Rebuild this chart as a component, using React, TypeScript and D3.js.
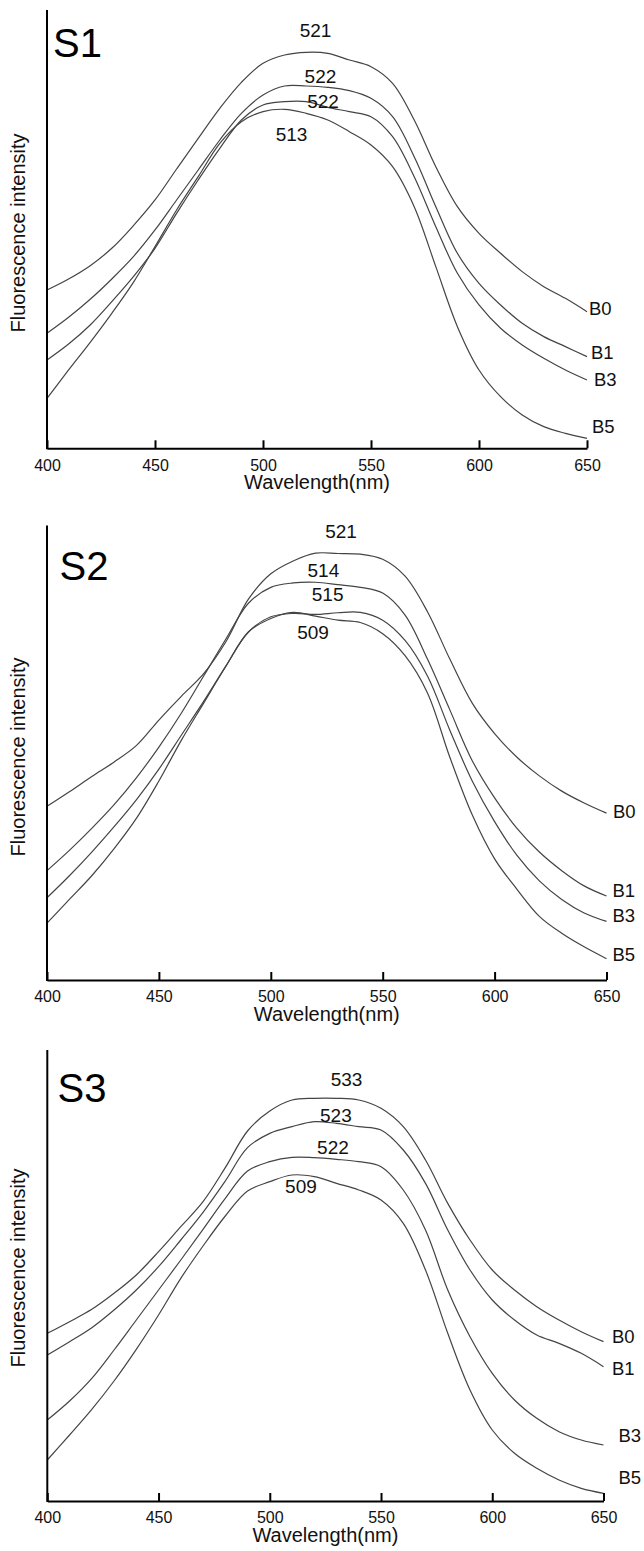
import React, { useEffect, useRef } from 'react';
import * as d3 from 'd3';

// wavelength grid (nm)
const wavelengths = [
  400, 410, 420, 430, 440, 450, 460, 470, 480, 490, 500, 510, 520,
  530, 540, 550, 560, 570, 580, 590, 600, 610, 620, 630, 640, 650,
];
const xTicks = [400, 450, 500, 550, 600, 650];
const seriesNames = ['B0', 'B1', 'B3', 'B5'];

// S1 intensities (a.u.)
const s1B0 = [475, 508, 548, 600, 668, 745, 838, 930, 1020, 1098, 1155, 1180, 1188, 1185, 1165, 1145, 1095, 985, 845, 725, 645, 585, 530, 485, 450, 410];
const s1B1 = [345, 393, 447, 508, 575, 655, 745, 835, 925, 1005, 1060, 1087, 1087, 1083, 1073, 1050, 995, 875, 725, 585, 495, 430, 375, 335, 305, 275];
const s1B3 = [265, 313, 370, 440, 515, 600, 705, 805, 900, 985, 1030, 1040, 1040, 1023, 1010, 995, 935, 815, 665, 525, 430, 360, 310, 270, 235, 205];
const s1B5 = [150, 235, 318, 405, 498, 605, 715, 815, 915, 980, 1010, 1017, 1005, 985, 950, 910, 845, 725, 545, 365, 235, 155, 100, 65, 45, 30];

// S2 intensities (a.u.)
const s2B0 = [513, 556, 601, 644, 693, 768, 838, 905, 1000, 1125, 1200, 1238, 1261, 1260, 1258, 1243, 1193, 1088, 948, 818, 728, 658, 603, 558, 523, 493];
const s2B1 = [323, 383, 448, 518, 598, 688, 788, 898, 1008, 1113, 1160, 1173, 1175, 1168, 1160, 1143, 1078, 948, 798, 648, 538, 448, 378, 323, 278, 248];
const s2B3 = [243, 308, 378, 453, 533, 623, 723, 823, 928, 1028, 1073, 1083, 1080, 1085, 1086, 1063, 1003, 898, 738, 588, 468, 368, 293, 238, 198, 173];
const s2B5 = [168, 238, 308, 388, 478, 588, 708, 818, 928, 1028, 1068, 1086, 1075, 1063, 1056, 1023, 958, 848, 658, 488, 358, 268, 188, 138, 98, 63];

// S3 intensities (a.u.)
const s3B0 = [503, 538, 575, 623, 678, 748, 823, 898, 1000, 1110, 1170, 1203, 1208, 1208, 1203, 1178, 1123, 1023, 893, 783, 693, 633, 583, 543, 508, 478];
const s3B1 = [438, 478, 520, 573, 633, 703, 783, 866, 960, 1060, 1103, 1123, 1138, 1133, 1123, 1113, 1053, 953, 813, 693, 603, 543, 498, 473, 443, 403];
const s3B3 = [243, 300, 368, 453, 543, 633, 723, 815, 908, 990, 1018, 1031, 1030, 1025, 1018, 1003, 933, 813, 633, 493, 383, 303, 248, 208, 183, 168];
const s3B5 = [123, 198, 275, 360, 455, 558, 668, 765, 855, 930, 958, 978, 973, 953, 933, 903, 833, 693, 503, 333, 213, 143, 98, 63, 38, 23];

// peak wavelength labels: text, anchor wavelength, anchor intensity
const s1Peaks = [
  { text: '521', wl: 524.3, v: 1235 },
  { text: '522', wl: 526.6, v: 1096 },
  { text: '522', wl: 527.8, v: 1021 },
  { text: '513', wl: 513.2, v: 923 },
];
const s2Peaks = [
  { text: '521', wl: 531.4, v: 1306 },
  { text: '514', wl: 523.5, v: 1190 },
  { text: '515', wl: 525.4, v: 1120 },
  { text: '509', wl: 518.9, v: 1007 },
];
const s3Peaks = [
  { text: '533', wl: 534.5, v: 1245 },
  { text: '523', wl: 529.7, v: 1137 },
  { text: '522', wl: 528.4, v: 1041 },
  { text: '509', wl: 514, v: 924 },
];

const panels = [
  { title: 'S1', series: [s1B0, s1B1, s1B3, s1B5], peaks: s1Peaks, yMax: 1315 },
  { title: 'S2', series: [s2B0, s2B1, s2B3, s2B5], peaks: s2Peaks, yMax: 1343 },
  { title: 'S3', series: [s3B0, s3B1, s3B3, s3B5], peaks: s3Peaks, yMax: 1353 },
];

// layout of each panel in page pixels
const layouts = [
  {
    left: 47, right: 587, top: 10, bottom: 448.3,
    titleX: 53, titleY: 57, yTitleY: 233,
    endOffsets: [[2, 3.5], [4, 2], [7, 6], [5, -5]],
  },
  {
    left: 47, right: 606.5, top: 525.4, bottom: 980,
    titleX: 59.5, titleY: 579.5, yTitleY: 757,
    endOffsets: [[6.5, 4.5], [6, 1], [6, 1], [6, 2.5]],
  },
  {
    left: 47.3, right: 603.5, top: 1050, bottom: 1501,
    titleX: 57.5, titleY: 1101.7, yTitleY: 1268,
    endOffsets: [[8.5, 1.5], [8.5, 8], [15, -3], [15, -9]],
  },
];

const FONT = '"Liberation Sans", Arial, Helvetica, sans-serif';
const LINE = '#444';

function Panel({ panel, layout }) {
  const axisRef = useRef(null);

  const x = d3.scaleLinear().domain([400, 650]).range([layout.left, layout.right]);
  const y = d3.scaleLinear().domain([0, panel.yMax]).range([layout.bottom, layout.top]);

  useEffect(() => {
    const g = d3.select(axisRef.current);
    g.selectAll('*').remove();
    g.call(
      d3.axisBottom(x).tickValues(xTicks).tickSizeInner(-8).tickSizeOuter(0).tickPadding(11)
    );
    g.select('.domain').attr('stroke', '#000').attr('stroke-width', 2);
    g.selectAll('.tick line').attr('stroke', '#000').attr('stroke-width', 2);
    g.selectAll('.tick text')
      .attr('fill', '#111')
      .style('font-family', FONT)
      .style('font-size', '16px');
  }, [panel, layout]);

  const line = d3
    .line()
    .x((d, i) => x(wavelengths[i]))
    .y((d) => y(d))
    .curve(d3.curveCatmullRom.alpha(0.5));

  const midX = (layout.left + layout.right) / 2;

  return (
    <g>
      {/* Lines */}
      {panel.series.map((s, i) => (
        <path key={seriesNames[i]} d={line(s)} fill="none" stroke={LINE} strokeWidth={1.2} />
      ))}

      {/* End labels */}
      {panel.series.map((s, i) => (
        <text
          key={'lab' + i}
          x={x(650) + layout.endOffsets[i][0]}
          y={y(s[s.length - 1]) + layout.endOffsets[i][1]}
          fontSize={18.5}
          fontFamily={FONT}
          fill="#111"
        >
          {seriesNames[i]}
        </text>
      ))}

      {/* Peak labels */}
      {panel.peaks.map((p, i) => (
        <text
          key={'pk' + i}
          x={x(p.wl)}
          y={y(p.v)}
          textAnchor="middle"
          fontSize={19}
          fontFamily={FONT}
          fill="#111"
        >
          {p.text}
        </text>
      ))}

      {/* Y axis */}
      <line
        x1={layout.left}
        x2={layout.left}
        y1={layout.top}
        y2={layout.bottom + 1}
        stroke="#000"
        strokeWidth={2}
      />
      {/* X axis */}
      <g ref={axisRef} transform={`translate(0,${layout.bottom})`} />

      <text
        x={midX}
        y={layout.bottom + 41}
        textAnchor="middle"
        fontSize={20}
        fontFamily={FONT}
        fill="#111"
      >
        Wavelength(nm)
      </text>

      <text
        transform={`translate(24.5,${layout.yTitleY}) rotate(-90)`}
        textAnchor="middle"
        fontSize={20}
        fontFamily={FONT}
        fill="#111"
      >
        Fluorescence intensity
      </text>

      <text x={layout.titleX} y={layout.titleY} fontSize={40} fontFamily={FONT} fill="#000">
        {panel.title}
      </text>
    </g>
  );
}

export default function App() {
  return (
    <div style={{ position: 'absolute', left: 0, top: 0 }}>
      <svg width={644} height={1551} style={{ display: 'block', background: '#fff' }}>
        {panels.map((p, i) => (
          <Panel key={p.title} panel={p} layout={layouts[i]} />
        ))}
      </svg>
    </div>
  );
}
